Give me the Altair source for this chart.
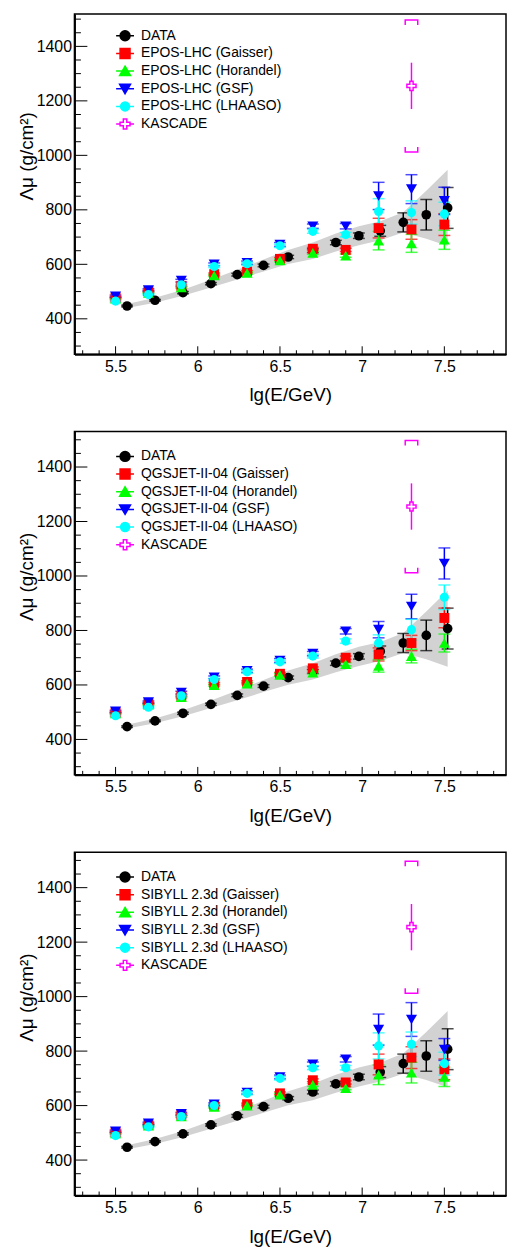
import altair as alt
import pandas as pd

# ---------------- data ----------------
x_data = [5.57, 5.74, 5.91, 6.08, 6.24, 6.40, 6.55, 6.70, 6.84, 6.98, 7.11, 7.25, 7.39, 7.52]
y_data = [447, 468, 496, 529, 562, 596, 627, 650, 680, 705, 723, 754, 782, 807]
stat_data = [3, 3, 4, 4, 5, 5, 6, 7, 8, 10, 20, 35, 56, 75]
sys_data = [7, 9, 11, 14, 18, 22, 26, 30, 33, 35, 35, 37, 88, 140]

x_model = [5.5, 5.7, 5.9, 6.1, 6.3, 6.5, 6.7, 6.9, 7.1, 7.3, 7.5]

epos_gaisser = [478, 501, 521, 564, 573, 620, 657, 653, 733, 728, 746]
epos_horandel = [474, 495, 515, 559, 568, 614, 642, 632, 687, 677, 690]
epos_gsf = [483, 506, 540, 600, 606, 673, 740, 740, 851, 876, 833]
epos_lhaaso = [465, 489, 525, 592, 602, 668, 721, 709, 794, 790, 785]
epos_gaisser_err = [3, 3, 3, 4, 4, 5, 5, 6, 36, 36, 40]
epos_horandel_err = [3, 3, 3, 4, 4, 5, 5, 6, 34, 33, 35]
epos_gsf_err = [4, 4, 5, 5, 6, 7, 8, 10, 50, 53, 50]
epos_lhaaso_err = [3, 3, 4, 4, 5, 6, 7, 8, 47, 43, 43]

qgs_gaisser = [499, 532, 560, 605, 611, 641, 661, 700, 712, 754, 846]
qgs_horandel = [495, 528, 555, 599, 605, 637, 645, 676, 670, 706, 754]
qgs_gsf = [503, 537, 572, 628, 652, 690, 715, 797, 803, 888, 1046]
qgs_lhaaso = [487, 518, 560, 620, 648, 685, 706, 761, 754, 803, 922]
qgs_gaisser_err = [3, 3, 3, 4, 4, 5, 5, 6, 24, 28, 36]
qgs_horandel_err = [3, 3, 3, 4, 4, 5, 5, 6, 23, 25, 33]
qgs_gsf_err = [4, 4, 5, 5, 6, 7, 8, 10, 30, 45, 57]
qgs_lhaaso_err = [3, 3, 4, 4, 5, 6, 7, 8, 30, 38, 45]

sib_gaisser = [502, 530, 566, 600, 605, 645, 693, 685, 751, 776, 733]
sib_horandel = [498, 526, 560, 595, 600, 640, 676, 664, 713, 721, 705]
sib_gsf = [506, 535, 570, 605, 648, 705, 752, 770, 879, 916, 806]
sib_lhaaso = [490, 522, 560, 600, 645, 700, 739, 739, 819, 825, 754]
sib_gaisser_err = [3, 3, 3, 4, 4, 5, 5, 6, 38, 40, 38]
sib_horandel_err = [3, 3, 3, 4, 4, 5, 5, 6, 36, 38, 35]
sib_gsf_err = [4, 4, 5, 5, 6, 7, 8, 10, 57, 62, 40]
sib_lhaaso_err = [3, 3, 4, 4, 5, 6, 7, 8, 48, 45, 42]

kascade_x = [7.3]
kascade_y = [1255]
kascade_stat = [85]
kascade_sys_up = [1497]
kascade_sys_down = [1012]

x_ticks_major = [5.5, 6.0, 6.5, 7.0, 7.5]
x_ticks_minor = [5.3, 5.4, 5.6, 5.7, 5.8, 5.9, 6.1, 6.2, 6.3, 6.4, 6.6, 6.7, 6.8, 6.9,
                 7.1, 7.2, 7.3, 7.4, 7.6, 7.7, 7.8]
y_ticks_major = [400, 600, 800, 1000, 1200, 1400]
y_ticks_minor = [300, 350, 450, 500, 550, 650, 700, 750, 850, 900, 950, 1050, 1100,
                 1150, 1250, 1300, 1350, 1450, 1500]

colors = ["#000000", "#ff0000", "#00ff00", "#0000ff", "#00ffff"]
shapes = ["circle", "square", "triangle-up", "triangle-down", "circle"]
sizes = [95, 100, 125, 125, 85]

FONT = "Liberation Sans"

CROSS = "M-0.35,-1H0.35V-0.35H1V0.35H0.35V1H-0.35V0.35H-1V-0.35H-0.35Z"
BR_TOP = "M-1,0.8V0H1V0.8"
BR_BOT = "M-1,-0.8V0H1V-0.8"
LEG_SHAPES = [
    "M-1.8,0H1.8M1,0A1,1 0 1,1 -1,0A1,1 0 1,1 1,0Z",
    "M-1.8,0H1.8M-1,-1H1V1H-1Z",
    "M-1.8,0H1.8M0,-1L1.1,0.9H-1.1Z",
    "M-1.8,0H1.8M0,1L1.1,-0.9H-1.1Z",
    "M-1.8,0H1.8M0.9,0A0.9,0.9 0 1,1 -0.9,0A0.9,0.9 0 1,1 0.9,0Z",
    "M-1.8,0H-1M1,0H1.8M-0.35,-1H0.35V-0.35H1V0.35H0.35V1H-0.35V0.35H-1V-0.35H-0.35Z",
]


def make_panel(model, vals, errs, height, ytop, title_y, legend_y):
    names = ["DATA"] + [f"{model} ({s})" for s in ["Gaisser", "Horandel", "GSF", "LHAASO"]]
    all_names = names + ["KASCADE"]

    rows = []
    for xi, yi, ei in zip(x_data, y_data, stat_data):
        rows.append({"x": xi, "y": yi, "err": ei, "series": "DATA"})
    for nm, ys, es in zip(names[1:], vals, errs):
        for xi, yi, ei in zip(x_model, ys, es):
            rows.append({"x": xi, "y": yi, "err": ei, "series": nm})
    pts = pd.DataFrame(rows)

    band_df = pd.DataFrame({"x": x_data, "y": y_data, "sys": sys_data})
    kas = pd.DataFrame({"x": kascade_x, "y": kascade_y, "stat": kascade_stat,
                        "up": kascade_sys_up, "down": kascade_sys_down})

    xs = alt.Scale(domain=[5.25, 7.875], nice=False, zero=False)
    ys = alt.Scale(domain=[270, ytop], nice=False, zero=False)

    xaxis = alt.Axis(values=x_ticks_major, format="~g", title="lg(E/GeV)",
                     titleFont=FONT, titleFontSize=19, titleFontWeight="normal",
                     titleColor="black", titleY=41, titleBaseline="middle",
                     labelFont=FONT, labelFontSize=16, labelColor="black",
                     labelPadding=4, ticks=False, tickSize=0, grid=False,
                     domainColor="black", domainWidth=2, labelFlush=False,
                     labelOverlap=False)
    yaxis = alt.Axis(values=y_ticks_major, format="d", title="Λμ (g/cm²)",
                     titleFont=FONT, titleFontSize=19, titleFontWeight="normal",
                     titleColor="black", titleX=-48, titleY=title_y, titleAngle=270,
                     titleAlign="center", titleBaseline="middle",
                     labelFont=FONT, labelFontSize=16, labelColor="black",
                     labelPadding=3, ticks=False, tickSize=0, grid=False,
                     domainColor="black", domainWidth=2, labelOverlap=False)

    def X(f):
        return alt.X(f, type="quantitative", scale=xs, axis=xaxis)

    def Y(f):
        return alt.Y(f, type="quantitative", scale=ys, axis=yaxis)

    band = alt.Chart(band_df).transform_calculate(
        lo="datum.y - datum.sys", hi="datum.y + datum.sys"
    ).mark_area(color="#d2d2d2").encode(x=X("x"), y=Y("lo"), y2="hi:Q")

    ytm = alt.Chart(pd.DataFrame({"v": y_ticks_major})).mark_rule(color="black", strokeWidth=1).encode(
        y=Y("v"), x=alt.value(0), x2=alt.value(13))
    ytn = alt.Chart(pd.DataFrame({"v": y_ticks_minor})).mark_rule(color="black", strokeWidth=1).encode(
        y=Y("v"), x=alt.value(0), x2=alt.value(6.5))
    xtm = alt.Chart(pd.DataFrame({"v": x_ticks_major})).mark_rule(color="black", strokeWidth=1).encode(
        x=X("v"), y=alt.value(height), y2=alt.value(height - 8))
    xtn = alt.Chart(pd.DataFrame({"v": x_ticks_minor})).mark_rule(color="black", strokeWidth=1).encode(
        x=X("v"), y=alt.value(height), y2=alt.value(height - 4))

    layers = [band, ytm, ytn, xtm, xtn]

    # error bars first (all series), then markers in legend order
    for nm, c in zip(names, colors):
        base = alt.Chart(pts).transform_filter(alt.datum.series == nm).transform_calculate(
            lo="datum.y - datum.err", hi="datum.y + datum.err")
        layers.append(base.mark_rule(strokeWidth=1.5, color=c).encode(x=X("x"), y=Y("lo"), y2="hi:Q"))
        layers.append(base.mark_tick(orient="horizontal", size=12, thickness=1.5, color=c).encode(
            x=X("x"), y=Y("lo")))
        layers.append(base.mark_tick(orient="horizontal", size=12, thickness=1.5, color=c).encode(
            x=X("x"), y=Y("hi")))
    for nm, c, s, sz in zip(names, colors, shapes, sizes):
        layers.append(alt.Chart(pts).transform_filter(alt.datum.series == nm).mark_point(
            filled=True, opacity=1, strokeWidth=0, shape=s, color=c, size=sz).encode(
            x=X("x"), y=Y("y")))

    kbase = alt.Chart(kas)
    layers.append(kbase.transform_calculate(lo="datum.y - datum.stat", hi="datum.y + datum.stat").mark_rule(
        color="#ff00ff", strokeWidth=1.5).encode(x=X("x"), y=Y("lo"), y2="hi:Q"))
    layers.append(kbase.mark_point(shape=BR_TOP, filled=False, color="#ff00ff", strokeWidth=1.5,
                                   size=160, opacity=1).encode(x=X("x"), y=Y("up")))
    layers.append(kbase.mark_point(shape=BR_BOT, filled=False, color="#ff00ff", strokeWidth=1.5,
                                   size=160, opacity=1).encode(x=X("x"), y=Y("down")))
    layers.append(kbase.mark_point(shape=CROSS, filled=True, fill="white", stroke="#ff00ff",
                                   strokeWidth=1.5, size=85, opacity=1).encode(x=X("x"), y=Y("y")))

    leg = alt.Legend(orient="none", legendX=44, legendY=legend_y, title=None,
                     labelFont=FONT, labelFontSize=14, labelColor="black",
                     labelLimit=400, labelOffset=9, symbolSize=100,
                     symbolStrokeWidth=1.5, rowPadding=1.8, padding=0)
    leg_df = pd.DataFrame({"series": all_names})
    layers.append(alt.Chart(leg_df).transform_filter("false").mark_point(
        filled=True, strokeWidth=1.5, opacity=1, size=100).encode(
        fill=alt.Fill("series:N", scale=alt.Scale(domain=all_names, range=colors + ["#ffffff"]), legend=leg),
        stroke=alt.Stroke("series:N", scale=alt.Scale(domain=all_names, range=colors + ["#ff00ff"]), legend=leg),
        shape=alt.Shape("series:N", scale=alt.Scale(domain=all_names, range=LEG_SHAPES), legend=leg),
    ))

    return alt.layer(*layers).properties(width=435, height=height)


p1 = make_panel("EPOS-LHC",
                [epos_gaisser, epos_horandel, epos_gsf, epos_lhaaso],
                [epos_gaisser_err, epos_horandel_err, epos_gsf_err, epos_lhaaso_err],
                343, 1519, 143, 15)
p2 = make_panel("QGSJET-II-04",
                [qgs_gaisser, qgs_horandel, qgs_gsf, qgs_lhaaso],
                [qgs_gaisser_err, qgs_horandel_err, qgs_gsf_err, qgs_lhaaso_err],
                346, 1530, 146, 18)
p3 = make_panel("SIBYLL 2.3d",
                [sib_gaisser, sib_horandel, sib_gsf, sib_lhaaso],
                [sib_gaisser_err, sib_horandel_err, sib_gsf_err, sib_lhaaso_err],
                346, 1530, 146, 18)

chart = alt.vconcat(
    p1, p2, p3, spacing=78, bounds="flush",
    padding={"left": 9, "top": 0, "right": 0, "bottom": 5},
).resolve_scale(
    fill="independent", stroke="independent", shape="independent",
).configure(font=FONT, background="white").configure_view(stroke="black", strokeWidth=1.5)

chart.save("out.html", embed_options={"renderer": "svg", "actions": False})
